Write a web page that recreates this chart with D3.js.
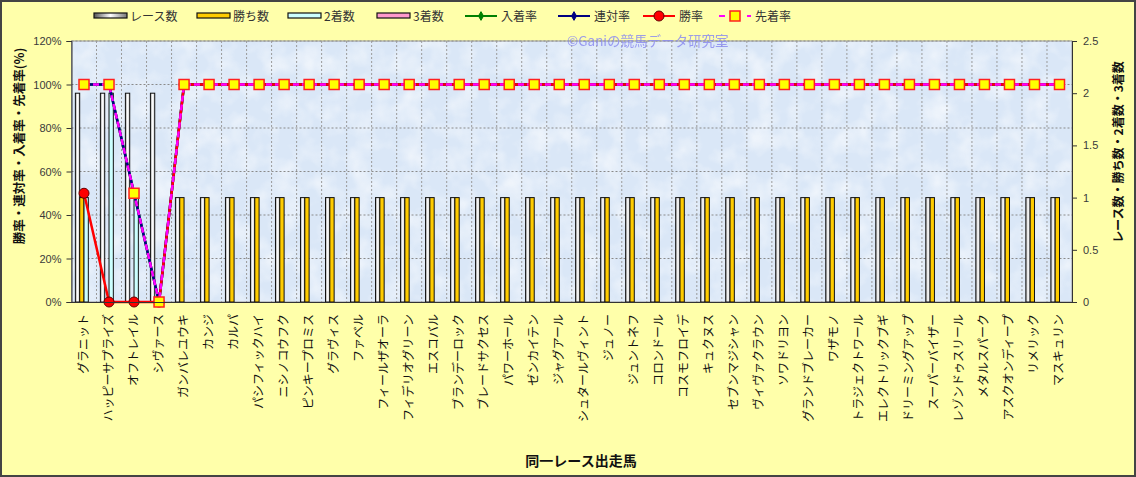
<!DOCTYPE html>
<html>
<head>
<meta charset="utf-8">
<script src="https://cdn.jsdelivr.net/npm/d3@7"></script>
<style>
  body { margin: 0; background: #fff; }
  svg { display: block; }
  text { font-family: "Liberation Sans", Arial, "Noto Sans CJK JP", sans-serif; }
  .jp { font-family: "Noto Sans CJK JP", sans-serif; }
</style>
</head>
<body>
<svg id="chart"></svg>
<script>
// horses in the same race
let horses = ['グラニット', 'ハッピーサプライズ', 'オフトレイル', 'シヴァース', 'ガンバレユウキ', 'カンジ', 'カルパ',
  'パシフィックハイ', 'ニシノコウフク', 'ピンキープロミス', 'グラヴィス', 'ファベル', 'フィールザオーラ',
  'フィデリオグリーン', 'エスコバル', 'ブランデーロック', 'ブレードサクセス', 'パワーホール', 'ゼンカイテン',
  'ジャグアール', 'シュタールヴィント', 'ジュノー', 'ジュントネフ', 'コロンドール', 'コスモフロイデ', 'キュクヌス',
  'セブンマジシャン', 'ヴィヴァクラウン', 'ソワドリヨン', 'グランドブレーカー', 'ワザモノ', 'トラジェクトワール',
  'エレクトリックブギ', 'ドリーミングアップ', 'スーパーバイザー', 'レゾンドゥスリール', 'メタルスパーク',
  'アスクオンディープ', 'リメリック', 'マスキュリン'];

let races   = [2, 2, 2, 2, 1, 1, 1, 1, 1, 1, 1, 1, 1, 1, 1, 1, 1, 1, 1, 1, 1, 1, 1, 1, 1, 1, 1, 1, 1, 1, 1, 1, 1, 1, 1, 1, 1, 1, 1, 1];
let wins    = [1, 0, 0, 0, 1, 1, 1, 1, 1, 1, 1, 1, 1, 1, 1, 1, 1, 1, 1, 1, 1, 1, 1, 1, 1, 1, 1, 1, 1, 1, 1, 1, 1, 1, 1, 1, 1, 1, 1, 1];
let seconds = [1, 2, 1, 0, 0, 0, 0, 0, 0, 0, 0, 0, 0, 0, 0, 0, 0, 0, 0, 0, 0, 0, 0, 0, 0, 0, 0, 0, 0, 0, 0, 0, 0, 0, 0, 0, 0, 0, 0, 0];
let thirds  = [0, 0, 0, 0, 0, 0, 0, 0, 0, 0, 0, 0, 0, 0, 0, 0, 0, 0, 0, 0, 0, 0, 0, 0, 0, 0, 0, 0, 0, 0, 0, 0, 0, 0, 0, 0, 0, 0, 0, 0];

let placeRate  = [100, 100, 50, 0, 100, 100, 100, 100, 100, 100, 100, 100, 100, 100, 100, 100, 100, 100, 100, 100, 100, 100, 100, 100, 100, 100, 100, 100, 100, 100, 100, 100, 100, 100, 100, 100, 100, 100, 100, 100];
let rentaiRate = [100, 100, 50, 0, 100, 100, 100, 100, 100, 100, 100, 100, 100, 100, 100, 100, 100, 100, 100, 100, 100, 100, 100, 100, 100, 100, 100, 100, 100, 100, 100, 100, 100, 100, 100, 100, 100, 100, 100, 100];
let winRate    = [50, 0, 0, 0, 100, 100, 100, 100, 100, 100, 100, 100, 100, 100, 100, 100, 100, 100, 100, 100, 100, 100, 100, 100, 100, 100, 100, 100, 100, 100, 100, 100, 100, 100, 100, 100, 100, 100, 100, 100];
let aheadRate  = [100, 100, 50, 0, 100, 100, 100, 100, 100, 100, 100, 100, 100, 100, 100, 100, 100, 100, 100, 100, 100, 100, 100, 100, 100, 100, 100, 100, 100, 100, 100, 100, 100, 100, 100, 100, 100, 100, 100, 100];

let leftTicks = [0, 20, 40, 60, 80, 100, 120];
let rightTicks = [0, 0.5, 1, 1.5, 2, 2.5];

let width = 1136, height = 477;
let plot = {left: 71.5, right: 1072, top: 41, bottom: 302};

let svg = d3.select('#chart').attr('width', width).attr('height', height);
let defs = svg.append('defs');

// gradient for race-count bars
let grad = defs.append('linearGradient').attr('id', 'raceGrad').attr('x1', 0).attr('x2', 1).attr('y1', 0).attr('y2', 0);
grad.append('stop').attr('offset', '0%').attr('stop-color', '#9a9a9a');
grad.append('stop').attr('offset', '50%').attr('stop-color', '#ffffff');
grad.append('stop').attr('offset', '100%').attr('stop-color', '#c8c8c8');

// marble-ish texture for the plot area
let filt = defs.append('filter').attr('id', 'marble').attr('x', 0).attr('y', 0).attr('width', '100%').attr('height', '100%');
filt.append('feTurbulence').attr('type', 'fractalNoise').attr('baseFrequency', 0.04).attr('numOctaves', 3).attr('seed', 7);
filt.append('feColorMatrix').attr('type', 'matrix')
  .attr('values', '0 0 0 0 1  0 0 0 0 1  0 0 0 0 1  0 0 0 1.4 -0.55');

// background
svg.append('rect').attr('x', 1).attr('y', 1).attr('width', width - 2).attr('height', height - 2)
  .attr('fill', '#ffffaa').attr('stroke', '#444', ).attr('stroke-width', 2);

let x = d3.scaleBand().domain(horses).range([plot.left, plot.right]).paddingInner(0.31).paddingOuter(0.155);
let xs = d3.scaleBand().domain(['races', 'wins', 'seconds', 'thirds']).range([0, x.bandwidth()]);
let yL = d3.scaleLinear().domain([0, 120]).range([plot.bottom, plot.top]);
let yR = d3.scaleLinear().domain([0, 2.5]).range([plot.bottom, plot.top]);
let step = x.step();

svg.append('rect').attr('x', plot.left).attr('y', plot.top)
  .attr('width', plot.right - plot.left).attr('height', plot.bottom - plot.top)
  .attr('fill', '#dae7f7');
svg.append('rect').attr('x', plot.left).attr('y', plot.top)
  .attr('width', plot.right - plot.left).attr('height', plot.bottom - plot.top)
  .attr('filter', 'url(#marble)').attr('opacity', 0.8);
svg.append('rect').attr('x', plot.left).attr('y', plot.top)
  .attr('width', plot.right - plot.left).attr('height', plot.bottom - plot.top)
  .attr('fill', 'none').attr('stroke', '#9a9a9a');

// grid lines
svg.append('g').selectAll('line').data(leftTicks.slice(1)).enter().append('line')
  .attr('x1', plot.left).attr('x2', plot.right)
  .attr('y1', d => yL(d)).attr('y2', d => yL(d))
  .attr('stroke', '#8a8a8a').attr('stroke-dasharray', '2,2');
svg.append('g').selectAll('line').data(horses.slice(1)).enter().append('line')
  .attr('x1', d => x(d) - x.paddingInner() * step / 2).attr('x2', d => x(d) - x.paddingInner() * step / 2)
  .attr('y1', plot.top).attr('y2', plot.bottom)
  .attr('stroke', '#9a9a9a').attr('stroke-dasharray', '2,2');

// bars
let barSeries = [
  {key: 'races', values: races, fill: 'url(#raceGrad)'},
  {key: 'wins', values: wins, fill: '#ffcc00'},
  {key: 'seconds', values: seconds, fill: '#ccffff'},
  {key: 'thirds', values: thirds, fill: '#ff99cc'}
];
barSeries.forEach(function(s) {
  svg.append('g').selectAll('rect').data(s.values).enter().append('rect')
    .attr('x', (d, i) => x(horses[i]) + xs(s.key))
    .attr('y', d => yR(d))
    .attr('width', xs.bandwidth())
    .attr('height', d => plot.bottom - yR(d))
    .attr('fill', s.fill)
    .attr('stroke', '#111').attr('stroke-width', 1);
});

// lines
let cx = i => x(horses[i]) + x.bandwidth() / 2;
let lineGen = d3.line().x((d, i) => cx(i)).y(d => yL(d));

let lineSeries = [
  {name: '入着率', values: placeRate, color: '#008000', dash: null, marker: 'diamond'},
  {name: '連対率', values: rentaiRate, color: '#000080', dash: null, marker: 'diamond'},
  {name: '勝率', values: winRate, color: '#ff0000', dash: null, marker: 'circle'},
  {name: '先着率', values: aheadRate, color: '#ff00ff', dash: '6,3', marker: 'square'}
];

function drawMarker(g, type, color, px, py) {
  if (type === 'diamond') {
    g.append('path').attr('d', d3.symbol().type(d3.symbolDiamond).size(22)())
      .attr('transform', `translate(${px},${py})`).attr('fill', color).attr('stroke', color);
  } else if (type === 'circle') {
    g.append('circle').attr('cx', px).attr('cy', py).attr('r', 5)
      .attr('fill', '#ff0000').attr('stroke', '#600').attr('stroke-width', 1);
  } else {
    g.append('rect').attr('x', px - 5).attr('y', py - 5).attr('width', 10).attr('height', 10)
      .attr('fill', '#ffff00').attr('stroke', '#ff2020').attr('stroke-width', 1.5);
  }
}

lineSeries.forEach(function(s) {
  let g = svg.append('g');
  g.append('path').attr('d', lineGen(s.values)).attr('fill', 'none')
    .attr('stroke', s.color).attr('stroke-width', 2.5)
    .attr('stroke-dasharray', s.dash);
  s.values.forEach((v, i) => drawMarker(g, s.marker, s.color, cx(i), yL(v)));
});

// axes
let axisColor = '#333';
let axL = svg.append('g').attr('transform', `translate(${plot.left},0)`)
  .call(d3.axisLeft(yL).tickValues(leftTicks).tickSize(5).tickPadding(5).tickFormat(d => d + '%'));
let axR = svg.append('g').attr('transform', `translate(${plot.right},0)`)
  .call(d3.axisRight(yR).tickValues(rightTicks).tickSize(5).tickPadding(6).tickFormat(d3.format('')));
let axB = svg.append('g').attr('transform', `translate(0,${plot.bottom})`)
  .call(d3.axisBottom(x).tickSize(0).tickPadding(0).tickFormat(''));
[axL, axR, axB].forEach(a => {
  a.select('.domain').attr('stroke', axisColor);
  a.selectAll('.tick line').attr('stroke', axisColor);
  a.selectAll('.tick text').attr('fill', '#3a3a3a').style('font-size', '11px')
    .style('font-family', '"Liberation Sans", Arial, sans-serif');
});

// category labels, vertical
svg.append('g').selectAll('text').data(horses).enter().append('text')
  .attr('class', 'jp')
  .attr('transform', d => `translate(${x(d) + x.bandwidth() / 2 + 4},${plot.bottom + 12}) rotate(-90)`)
  .attr('text-anchor', 'end')
  .style('font-size', '12px').attr('fill', '#111')
  .text(d => d);

// axis titles
svg.append('text').attr('class', 'jp')
  .attr('transform', `translate(24,146) rotate(-90)`)
  .attr('text-anchor', 'middle').style('font-size', '12.5px').style('font-weight', 'bold').attr('fill', '#111')
  .text('勝率・連対率・入着率・先着率(%)');
svg.append('text').attr('class', 'jp')
  .attr('transform', `translate(1123,152) rotate(-90)`)
  .attr('text-anchor', 'middle').style('font-size', '12px').style('font-weight', 'bold').attr('fill', '#111')
  .text('レース数・勝ち数・2着数・3着数');
svg.append('text').attr('class', 'jp')
  .attr('x', 581).attr('y', 466)
  .attr('text-anchor', 'middle').style('font-size', '14px').style('font-weight', 'bold').attr('fill', '#111')
  .text('同一レース出走馬');

// watermark
svg.append('text').attr('class', 'jp')
  .attr('x', 567).attr('y', 46)
  .style('font-size', '13.5px').attr('fill', '#8c8cf0').attr('opacity', 0.85)
  .text('©Ganiの競馬データ研究室');

// legend
let legendY = 16;
let legend = svg.append('g').attr('class', 'legend');
let barLegend = [
  {name: 'レース数', fill: 'url(#legGrad)', x: 94},
  {name: '勝ち数', fill: '#ffcc00', x: 197},
  {name: '2着数', fill: '#ccffff', x: 288},
  {name: '3着数', fill: '#ff99cc', x: 377}
];
let lg = defs.append('linearGradient').attr('id', 'legGrad').attr('x1', 0).attr('x2', 1);
lg.append('stop').attr('offset', '0%').attr('stop-color', '#555');
lg.append('stop').attr('offset', '50%').attr('stop-color', '#fff');
lg.append('stop').attr('offset', '100%').attr('stop-color', '#777');
barLegend.forEach(function(b) {
  legend.append('rect').attr('x', b.x).attr('y', legendY - 3).attr('width', 33).attr('height', 5)
    .attr('fill', b.fill).attr('stroke', '#111').attr('stroke-width', 1.2);
  legend.append('text').attr('class', 'jp').attr('x', b.x + 36).attr('y', legendY + 4.5)
    .style('font-size', '12px').attr('fill', '#333').text(b.name);
});
let lineLegendX = [465, 558, 643, 719];
lineSeries.forEach(function(s, i) {
  let lx = lineLegendX[i];
  legend.append('line').attr('x1', lx).attr('x2', lx + 32).attr('y1', legendY).attr('y2', legendY)
    .attr('stroke', s.color).attr('stroke-width', 2).attr('stroke-dasharray', s.dash ? '6,8' : null);
  drawMarker(legend, s.marker, s.color, lx + 16, legendY);
  legend.append('text').attr('class', 'jp').attr('x', lx + 36).attr('y', legendY + 4.5)
    .style('font-size', '12px').attr('fill', '#333').text(s.name);
});
</script>
</body>
</html>
